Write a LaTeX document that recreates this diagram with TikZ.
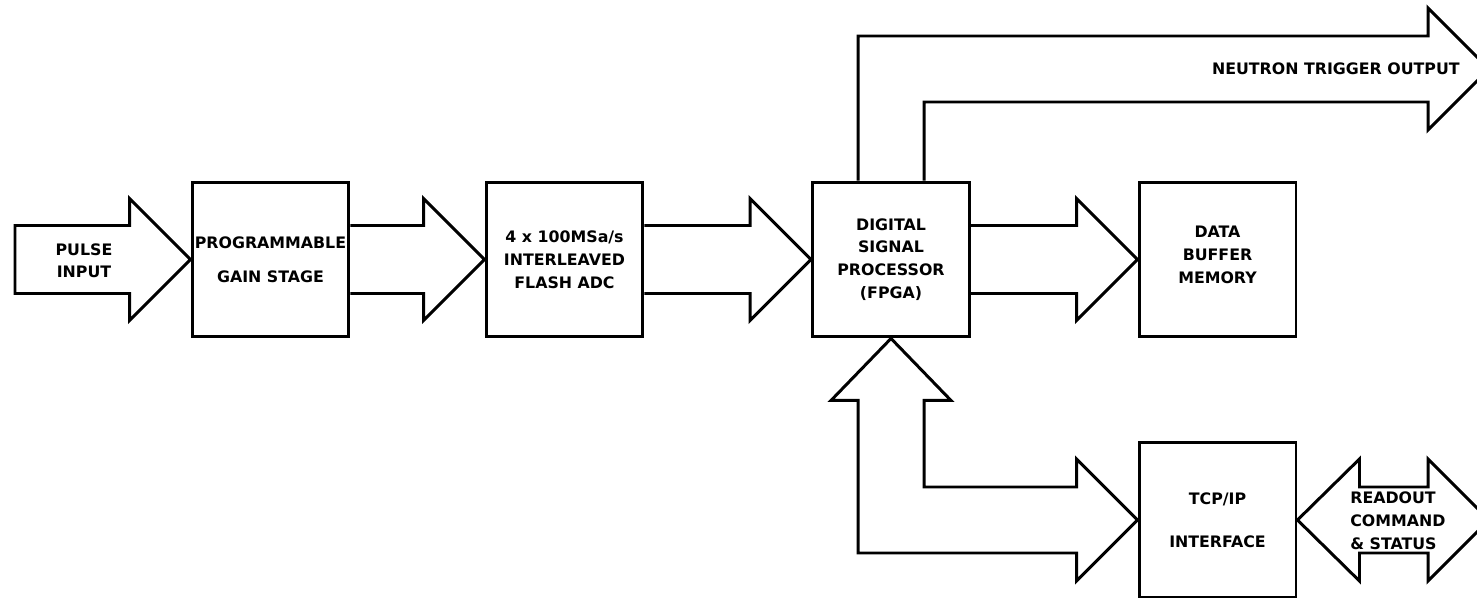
\documentclass[tikz,border=0pt]{standalone}
\usepackage{fontspec}
\setmainfont{DejaVu Sans}
\usetikzlibrary{calc}
\tikzset{
  line/.style={draw=black, line width=1.7pt},
  blockbox/.style={line, minimum width=3.14cm, minimum height=3.1cm, inner sep=0pt, align=center,
    font=\fontsize{9}{13}\selectfont\bfseries},
  lbl/.style={inner sep=0pt, font=\fontsize{9}{13}\selectfont\bfseries}
}
\newcommand\fatarrow[2]{%
  \draw[line] ($(#1)+(0,-34)$) -- ($(#2)+(-61,-34)$) -- ($(#2)+(-61,-61)$) -- (#2)
    -- ($(#2)+(-61,61)$) -- ($(#2)+(-61,34)$) -- ($(#1)+(0,34)$);}
\begin{document}
\begin{tikzpicture}[x=0.02cm, y=-0.02cm]
\useasboundingbox (0,0) rectangle (1477,598);
\clip (0,0) rectangle (1477,598);
% blocks
\node[blockbox] (pgs) at (270.5,259.5) {PROGRAMMABLE\\[6.3pt]GAIN STAGE};
\node[blockbox] (adc) at (564.5,259.5) {4 x 100MSa/s\\INTERLEAVED\\FLASH ADC};
\node[blockbox] (dsp) at (891,259.5) {DIGITAL\\SIGNAL\\PROCESSOR\\(FPGA)};
\node[blockbox] (mem) at (1217.5,259.5) {DATA\\BUFFER\\MEMORY\\[-7.5pt]\mbox{}};
\node[blockbox] (tcp) at (1217.5,520) {TCP/IP\\[11.4pt]INTERFACE};
% pulse input arrow
\coordinate (pin) at (15,259.5);
\draw[line] ($(pin)+(0,-34)$) -- ($(pgs.west)+(-61,-34)$) -- ($(pgs.west)+(-61,-61)$) -- (pgs.west)
  -- ($(pgs.west)+(-61,61)$) -- ($(pgs.west)+(-61,34)$) -- ($(pin)+(0,34)$) -- cycle;
\node[lbl, align=center] (pinlbl) at (84,261) {PULSE\\[-0.5pt]INPUT};
% chain arrows
\fatarrow{pgs.east}{adc.west}
\fatarrow{adc.east}{dsp.west}
\fatarrow{dsp.east}{mem.west}
% neutron trigger output
\coordinate (ntip) at (1489,69);
\draw[line] ($(dsp.north)+(-33,0)$) |- ($(ntip)+(-61,-33)$) -- ($(ntip)+(-61,-61)$) -- (ntip)
  -- ($(ntip)+(-61,61)$) -- ($(ntip)+(-61,33)$) -| ($(dsp.north)+(33,0)$);
\node[lbl, anchor=east] (ntlbl) at (1460,69) {NEUTRON TRIGGER OUTPUT};
% DSP <-> TCP/IP
\draw[line] ($(tcp.west)+(-61,-33)$) -| ($(dsp.south)+(33,62)$) -- ($(dsp.south)+(60,62)$) -- (dsp.south)
  -- ($(dsp.south)+(-60,62)$) -- ($(dsp.south)+(-33,62)$) |- ($(tcp.west)+(-61,33)$)
  -- ($(tcp.west)+(-61,61)$) -- (tcp.west) -- ($(tcp.west)+(-61,-61)$) -- cycle;
% readout double arrow
\coordinate (rtip) at (1489,520);
\draw[line] (tcp.east) -- ($(tcp.east)+(62,-61)$) -- ($(tcp.east)+(62,-33)$) -- ($(rtip)+(-61,-33)$)
  -- ($(rtip)+(-61,-61)$) -- (rtip) -- ($(rtip)+(-61,61)$) -- ($(rtip)+(-61,33)$)
  -- ($(tcp.east)+(62,33)$) -- ($(tcp.east)+(62,61)$) -- cycle;
\node[lbl, anchor=west, align=left] (rolbl) at (1350,520.5) {READOUT\\COMMAND\\\&~STATUS};
\end{tikzpicture}
\end{document}
